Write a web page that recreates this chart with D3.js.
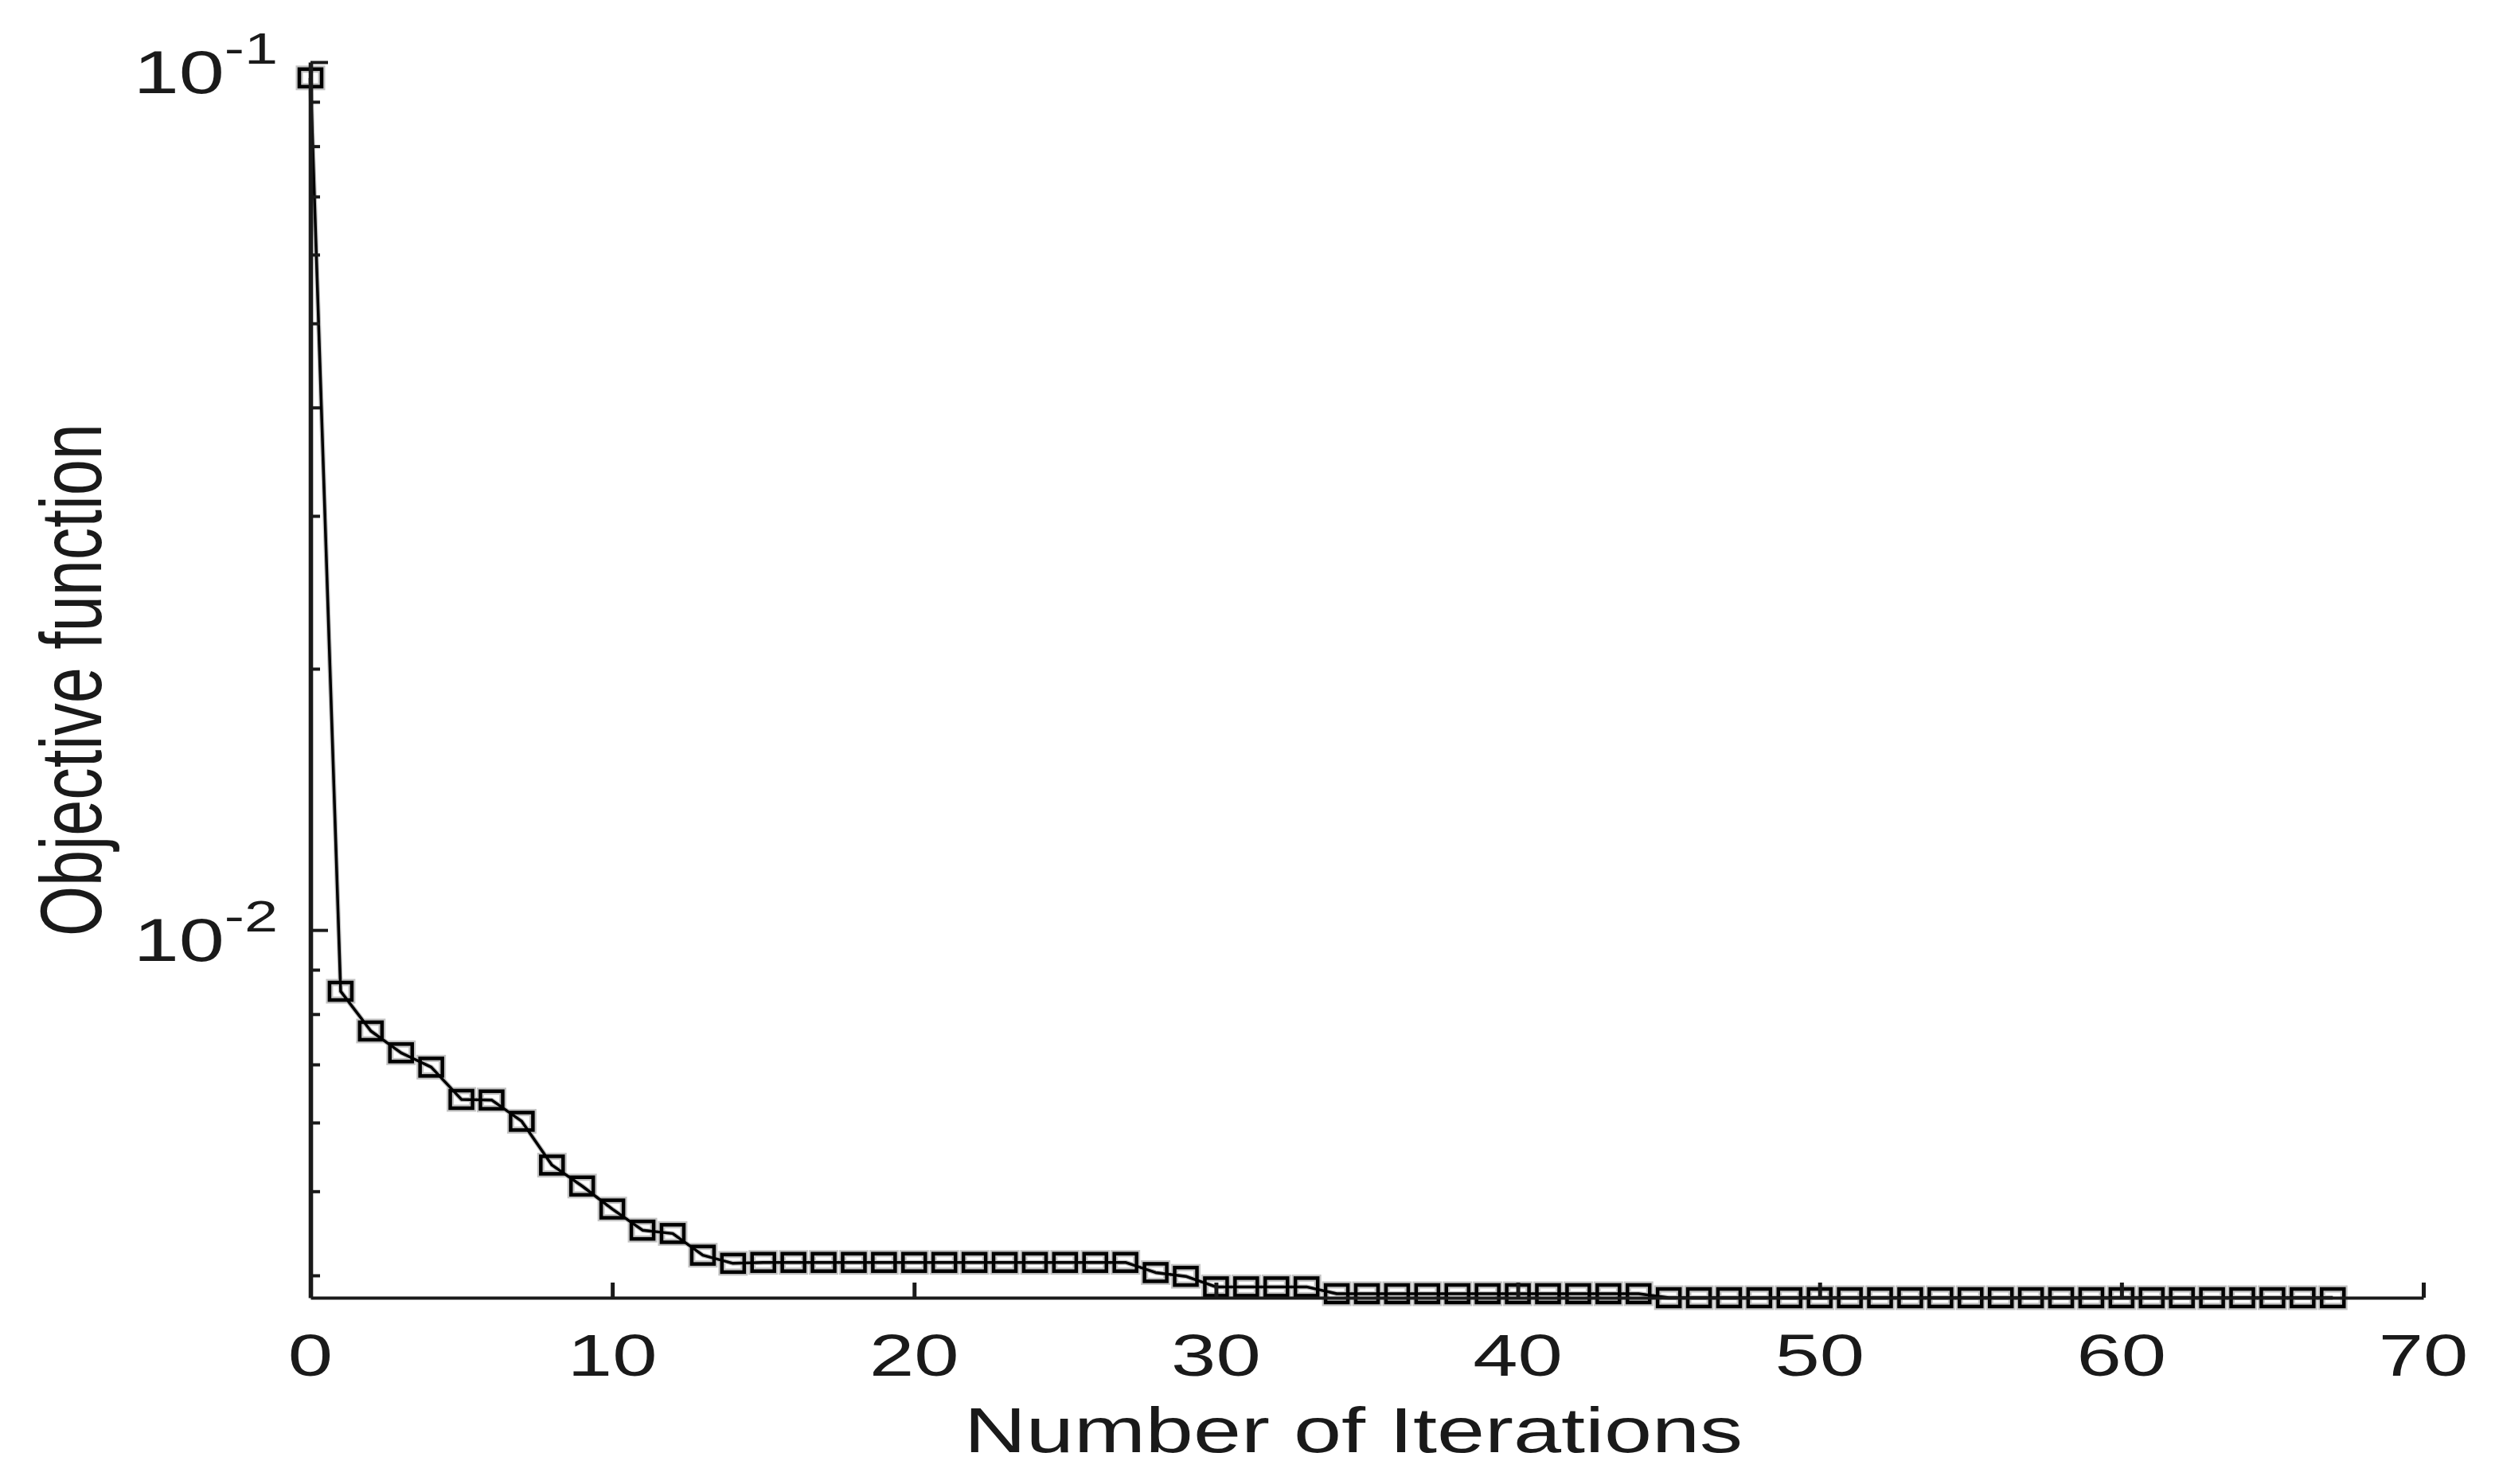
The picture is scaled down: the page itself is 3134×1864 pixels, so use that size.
<!DOCTYPE html>
<html><head><meta charset="utf-8">
<script src="https://cdn.jsdelivr.net/npm/d3@7"></script>
<style>body{margin:0;background:#fff}svg{display:block}</style>
</head><body>
<svg id="chart" width="3134" height="1864"></svg>
<script>
// ---- data ----
const iterations = [0,1,2,3,4,5,6,7,8,9,10,11,12,13,14,15,16,17,18,19,20,21,22,23,24,25,26,27,28,29,30,31,32,33,34,35,36,37,38,39,40,41,42,43,44,45,46,47,48,49,50,51,52,53,54,55,56,57,58,59,60,61,62,63,64,65,66,67];
const objective = [
  0.0959, 0.00850, 0.00765, 0.00722, 0.00695, 0.00638, 0.00637, 0.00602, 0.00536, 0.00507,
  0.00477, 0.00451, 0.00447, 0.00422, 0.00413, 0.00414, 0.00414, 0.00414, 0.00414, 0.00414,
  0.00414, 0.00414, 0.00414, 0.00414, 0.00414, 0.00414, 0.00414, 0.00414, 0.00403, 0.00399,
  0.00388, 0.00388, 0.00388, 0.00388, 0.00381, 0.00381, 0.00381, 0.00381, 0.00381, 0.00381,
  0.00381, 0.00381, 0.00381, 0.00381, 0.00381, 0.00377, 0.00377, 0.00377, 0.00377, 0.00377,
  0.00377, 0.00377, 0.00377, 0.00377, 0.00377, 0.00377, 0.00377, 0.00377, 0.00377, 0.00377,
  0.00377, 0.00377, 0.00377, 0.00377, 0.00377, 0.00377, 0.00377, 0.00377
];
const xTicks = [0,10,20,30,40,50,60,70];
const yMajorTicks = [0.1, 0.01];
const yMinorTicks = [0.09,0.08,0.07,0.06,0.05,0.04,0.03,0.02,0.009,0.008,0.007,0.006,0.005,0.004];
const xDomain = [0, 70];
const yDomain = [0.00377, 0.1];
const xLabel = "Number of Iterations";
const yLabel = "Objective function";

// ---- layout ----
const mLeft = 390, mRight = 3044, mTop = 78, mBottom = 1630;
const sx = 1.35;           // horizontal stretch of the original figure
const font = "'Liberation Sans', Arial, Helvetica, sans-serif";
const ink = "#1a1a1a";

const svg = d3.select("#chart");
const x = d3.scaleLinear().domain(xDomain).range([mLeft, mRight]);
const y = d3.scaleLog().domain(yDomain).range([mBottom, mTop]);

const line = d3.line().x((d,i)=>x(iterations[i])).y(d=>y(d));
const mw = 28, mh = 22;

// soft halo (the reference is a blurred raster)
svg.append("path").datum(objective)
  .attr("d", line).attr("fill","none")
  .attr("stroke","#bdbdbd").attr("stroke-width",6).attr("stroke-linejoin","round");
svg.append("g").selectAll("rect").data(objective).join("rect")
  .attr("x",(d,i)=>x(iterations[i]) - mw/2)
  .attr("y",d=>y(d) - mh/2)
  .attr("width",mw).attr("height",mh)
  .attr("fill","none").attr("stroke","#c4c4c4").attr("stroke-width",9);

// data line
svg.append("path").datum(objective)
  .attr("d", line).attr("fill","none")
  .attr("stroke","#000").attr("stroke-width",3.5).attr("stroke-linejoin","round");

// markers (open squares)
svg.append("g").selectAll("rect").data(objective).join("rect")
  .attr("x",(d,i)=>x(iterations[i]) - mw/2)
  .attr("y",d=>y(d) - mh/2)
  .attr("width",mw).attr("height",mh)
  .attr("fill","none").attr("stroke","#000").attr("stroke-width",4.5);

// x axis
const xAxis = d3.axisBottom(x).tickValues(xTicks).tickSizeInner(-19).tickSizeOuter(0).tickFormat("");
const gx = svg.append("g").attr("transform",`translate(0,${mBottom})`).call(xAxis);
gx.select(".domain").attr("stroke",ink).attr("stroke-width",4);
gx.selectAll(".tick line").attr("stroke",ink).attr("stroke-width",5);

// y axis major / minor
const yAxisMajor = d3.axisLeft(y).tickValues(yMajorTicks).tickSizeInner(-22).tickSizeOuter(0).tickFormat("");
const gy = svg.append("g").attr("transform",`translate(${mLeft},0)`).call(yAxisMajor);
gy.select(".domain").attr("stroke",ink).attr("stroke-width",5.6);
gy.selectAll(".tick line").attr("stroke",ink).attr("stroke-width",4);
const yAxisMinor = d3.axisLeft(y).tickValues(yMinorTicks).tickSizeInner(-12).tickSizeOuter(0).tickFormat("");
const gym = svg.append("g").attr("transform",`translate(${mLeft},0)`).call(yAxisMinor);
gym.select(".domain").remove();
gym.selectAll(".tick line").attr("stroke",ink).attr("stroke-width",4);

// x tick labels
svg.append("g").selectAll("text").data(xTicks).join("text")
  .attr("transform",d=>`translate(${x(d)},1728) scale(${sx},1)`)
  .attr("text-anchor","middle").attr("font-family",font).attr("font-size",75)
  .attr("fill",ink).text(d=>d);

// y tick labels 10^n
const yl = svg.append("g").selectAll("text").data(yMajorTicks).join("text")
  .attr("transform",d=>`translate(349,${y(d)+39}) scale(${sx},1)`)
  .attr("text-anchor","end").attr("font-family",font).attr("fill",ink);
yl.append("tspan").attr("font-size",76).text("10");
yl.append("tspan").attr("font-size",56).attr("dy",-37).text(d=>String(Math.round(Math.log10(d))));

// axis titles
svg.append("text")
  .attr("transform",`translate(${(mLeft+mRight)/2 - 17},1824) scale(${sx},1)`)
  .attr("text-anchor","middle").attr("font-family",font).attr("font-size",80)
  .attr("fill",ink).text(xLabel);
svg.append("text")
  .attr("transform",`translate(127,${(mTop+mBottom)/2}) scale(${sx},1) rotate(-90)`)
  .attr("text-anchor","middle").attr("font-family",font).attr("font-size",81)
  .attr("fill",ink).text(yLabel);
</script>
</body></html>
